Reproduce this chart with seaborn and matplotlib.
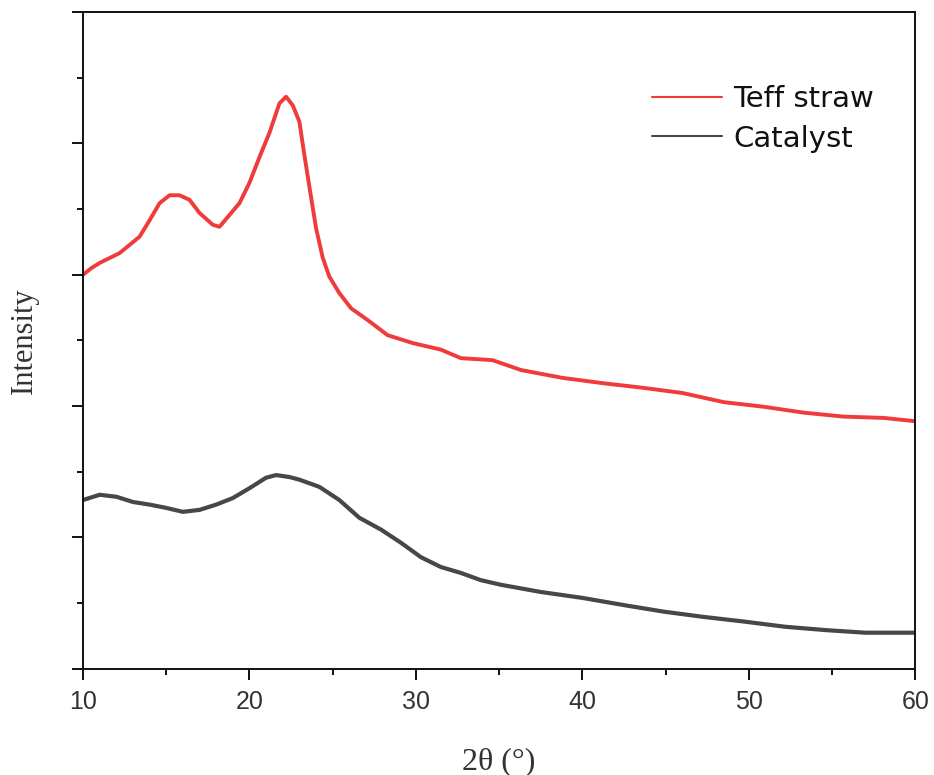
import numpy as np
import pandas as pd
import seaborn as sns
import matplotlib.pyplot as plt
from matplotlib.ticker import MultipleLocator

# values (intensity in axis units 0-10)
teff_x = [10.0, 10.5, 11.0, 12.2, 13.4, 14.0, 14.6, 15.2, 15.8, 16.4, 17.0, 17.8, 18.2,
          18.8, 19.4, 20.0, 20.6, 21.2, 21.8, 22.2, 22.6, 23.0, 23.3, 23.6, 24.0, 24.4,
          24.8, 25.4, 26.1, 27.1, 28.3, 29.8, 31.5, 32.7, 34.6, 36.3, 38.8, 41.2, 43.6,
          46.0, 48.5, 50.9, 53.3, 55.7, 58.1, 60.0]
teff_y = [6.00, 6.10, 6.18, 6.33, 6.58, 6.83, 7.09, 7.21, 7.21, 7.14, 6.94, 6.76, 6.73,
          6.91, 7.09, 7.40, 7.79, 8.16, 8.61, 8.71, 8.58, 8.33, 7.82, 7.34, 6.71, 6.26,
          5.97, 5.72, 5.49, 5.31, 5.08, 4.96, 4.86, 4.73, 4.70, 4.55, 4.43, 4.35, 4.28,
          4.20, 4.06, 3.99, 3.90, 3.84, 3.82, 3.77]

cat_x = [10.0, 11.0, 12.0, 13.0, 14.0, 15.0, 16.0, 17.0, 18.0, 19.0, 20.0, 21.0, 21.6,
         22.4, 23.0, 24.2, 25.4, 26.6, 27.9, 29.1, 30.3, 31.5, 32.7, 33.9, 35.1, 37.5,
         40.0, 42.5, 44.9, 47.3, 49.7, 52.2, 54.6, 57.0, 60.0]
cat_y = [2.57, 2.65, 2.62, 2.54, 2.50, 2.45, 2.39, 2.42, 2.50, 2.60, 2.75, 2.91, 2.95,
         2.92, 2.88, 2.77, 2.57, 2.30, 2.12, 1.92, 1.70, 1.55, 1.46, 1.35, 1.28, 1.17,
         1.08, 0.97, 0.87, 0.79, 0.72, 0.64, 0.59, 0.55, 0.55]

labels = ['Teff straw', 'Catalyst']
colors = ['#ef3b3b', '#474747']

sns.set_style('ticks')
plt.rcParams['font.family'] = ['Liberation Sans', 'DejaVu Sans']

fig = plt.figure(figsize=(9.34, 7.75), dpi=100)
ax = fig.add_axes([0.0889, 0.137, 0.891, 0.8475])

df_teff = pd.DataFrame({'x': teff_x, 'y': teff_y})
df_cat = pd.DataFrame({'x': cat_x, 'y': cat_y})
sns.lineplot(data=df_teff, x='x', y='y', ax=ax, color=colors[0], lw=2.8, label=labels[0])
sns.lineplot(data=df_cat, x='x', y='y', ax=ax, color=colors[1], lw=3.0, label=labels[1])

ax.set_xlim(10, 60)
ax.set_ylim(0, 10)
ax.xaxis.set_major_locator(MultipleLocator(10))
ax.xaxis.set_minor_locator(MultipleLocator(5))
ax.yaxis.set_major_locator(MultipleLocator(2))
ax.yaxis.set_minor_locator(MultipleLocator(1))
ax.set_yticklabels([])

for s in ax.spines.values():
    s.set_visible(True)
    s.set_linewidth(1.4)
    s.set_color('#111111')

ax.tick_params(axis='both', which='major', direction='out', length=8, width=1.4, color='#111111')
ax.tick_params(axis='both', which='minor', direction='out', length=4.5, width=1.4, color='#111111')
ax.tick_params(axis='x', which='major', labelsize=18, labelcolor='#333333', pad=7)

ax.set_xlabel('2θ (°)', fontsize=23, fontfamily='Liberation Serif', color='#333333', labelpad=24)
ax.set_ylabel('Intensity', fontsize=22, fontfamily='Liberation Serif', color='#333333', labelpad=20)

leg = ax.legend(loc='upper left', bbox_to_anchor=(0.684, 0.889), frameon=False,
                prop={'family': 'DejaVu Sans', 'size': 21}, borderpad=0, borderaxespad=0,
                handlelength=2.4, handletextpad=0.38, labelspacing=0.4)
for line in leg.get_lines():
    line.set_linewidth(1.5)
for t in leg.get_texts():
    t.set_color('#111111')

fig.savefig('out.png', dpi=100)
